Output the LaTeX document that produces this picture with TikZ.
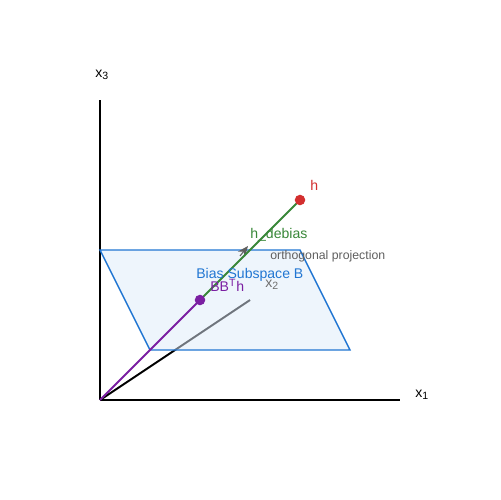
\documentclass[tikz,border=0pt]{standalone}
\usepackage{fontspec}
\setmainfont{Liberation Sans}
\usetikzlibrary{arrows.meta}
\definecolor{planeblue}{RGB}{33,118,210}
\definecolor{planefill}{RGB}{222,235,250}
\definecolor{vecpurple}{RGB}{123,31,162}
\definecolor{vecgreen}{RGB}{56,135,56}
\definecolor{vecred}{RGB}{211,47,47}
\definecolor{projgray}{RGB}{95,95,95}
\begin{document}
\begin{tikzpicture}[x=0.02cm,y=-0.02cm]
      \useasboundingbox (0,0) rectangle (500,500);

      \coordinate (O)  at (100,400);
      \coordinate (e1) at (400,400);
      \coordinate (e2) at (250,300);
      \coordinate (e3) at (100,100);
      \coordinate (tail) at (240,256);
      \coordinate (mid) at (248,246);

      % axes
      \begin{scope}[line width=1.1pt]
        \draw (O) -- (e3);
        \draw (O) -- (e1);
        \draw (O) -- (e2);
      \end{scope}

      % bias subspace
      \draw[planeblue, line width=0.8pt, fill=planefill, fill opacity=0.5]
        (100,250) -- (300,250) -- (350,350) -- (150,350) -- cycle;

      \begin{scope}[every node/.style={circle, inner sep=0pt, minimum size=5.6pt}]
        \node (p) at (200,300) {};
        \node (h) at (300,200) {};
      \end{scope}

      \draw[projgray, line width=0.6pt, -{Stealth[length=6pt,width=5pt]}] (tail) -- (mid);
      \draw[vecpurple, line width=1.1pt] (O) -- (p.center);
      \draw[vecgreen, line width=1.1pt] (p.center) -- (h.center);
      \fill[vecpurple] (p) circle (3pt);
      \fill[vecred] (h) circle (3pt);

      \begin{scope}[every node/.style={anchor=west, inner sep=0pt, font=\fontsize{8pt}{9.6pt}\selectfont}]
        \node (l3) at (95,75)   {x\textsubscript{3}};
        \node (l1) at (415,395) {x\textsubscript{1}};
        \node[text=projgray!90] (l2) at (265,285) {x\textsubscript{2}};
        \node[text=vecred] (lh) at (310,185) {h};
        \node[text=vecgreen] (ld) at (250,235) {h\_debias};
        \node[text=projgray, font=\fontsize{7pt}{8.4pt}\selectfont] (lo) at (270,256) {orthogonal projection};
        \node[text=planeblue] (lb) at (196,275) {Bias Subspace B};
        \node[text=vecpurple] (lp) at (210,285) {BB\textsuperscript{T}h};
      \end{scope}

    \end{tikzpicture}
\end{document}
